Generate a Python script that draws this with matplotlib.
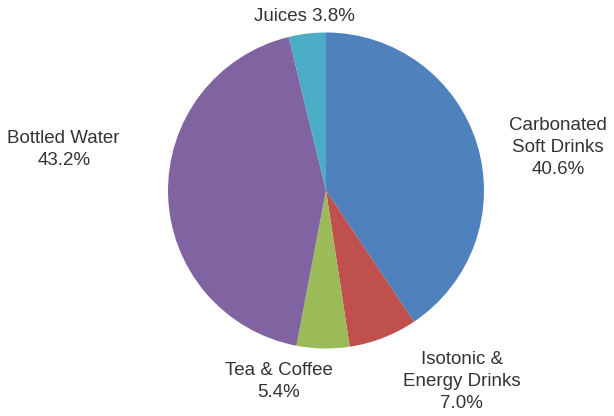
import matplotlib
matplotlib.use('Agg')
import matplotlib.pyplot as plt

CATEGORIES = ['Carbonated\nSoft Drinks', 'Isotonic &\nEnergy Drinks', 'Tea & Coffee',
              'Bottled Water', 'Juices']
SHARES = [40.6, 7.0, 5.4, 43.2, 3.8]
COLORS = ['#4F81BD', '#C0504D', '#9BBB59', '#8064A2', '#4BACC6']

# label anchor points in pie radius units (centre of each text block)
LABEL_POS = [(1.47, 0.27), (0.86, -1.21), (-0.30, -1.21), (-1.66, 0.26), (-0.135, 1.10)]
LABEL_FMT = ['{}\n{:.1f}%', '{}\n{:.1f}%', '{}\n{:.1f}%', '{}\n{:.1f}%', '{} {:.1f}%']

W, H = 614, 416
CX, CY, R = 326, 190.5, 158


def main() -> None:
    plt.rcParams['font.family'] = ['Liberation Sans', 'DejaVu Sans']
    fig = plt.figure(figsize=(W / 100, H / 100), dpi=100)
    ax = fig.add_axes([0, 0, 1, 1])

    ax.pie(SHARES, colors=COLORS, startangle=90, counterclock=False,
           radius=1.0, wedgeprops=dict(linewidth=0))

    for name, val, pos, fmt in zip(CATEGORIES, SHARES, LABEL_POS, LABEL_FMT):
        ax.text(pos[0], pos[1], fmt.format(name, val), ha='center', va='center',
                fontsize=13.5, color='#333333', linespacing=1.38)

    ax.set_xlim(-CX / R, (W - CX) / R)
    ax.set_ylim(-(H - CY) / R, CY / R)
    ax.set_aspect('auto')
    ax.axis('off')

    fig.savefig('out.png', dpi=100, facecolor='white')
    plt.close(fig)


if __name__ == "__main__":
    main()
